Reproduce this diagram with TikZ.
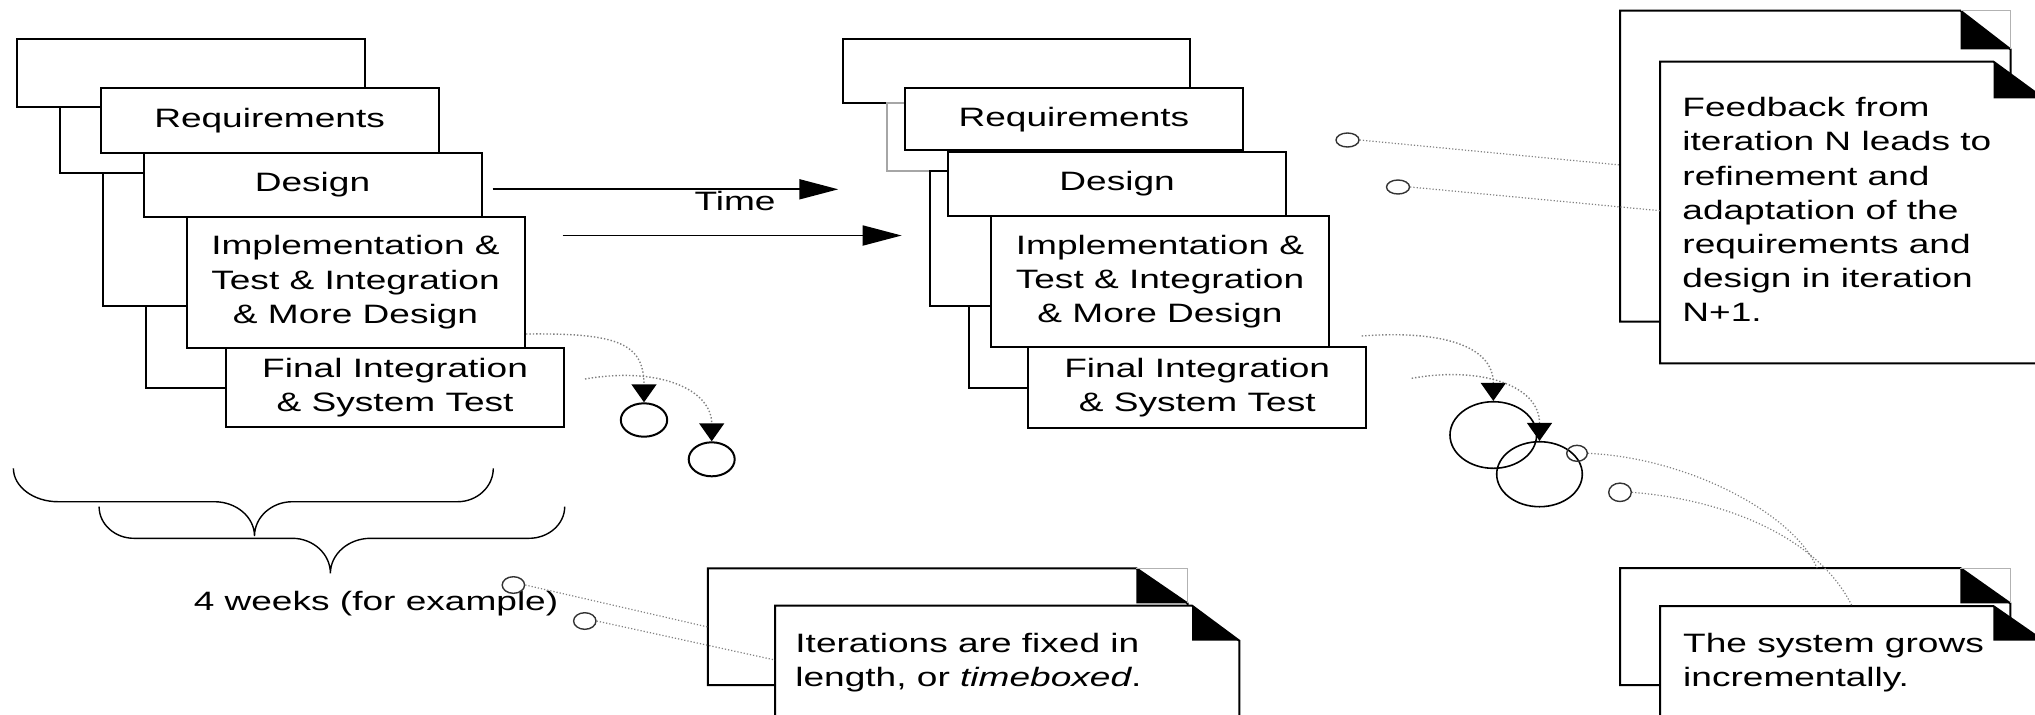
\documentclass[tikz,border=0pt]{standalone}
\usepackage{fontspec}
\setmainfont{Liberation Sans}
\usepackage{graphicx}
\usetikzlibrary{arrows.meta,shapes.geometric}
\newcommand{\tf}{\fontsize{13.3}{17.08}\selectfont}
\newcommand{\sx}[1]{\scalebox{1.393}[1]{#1}}
\tikzset{
 frame/.style={draw=black, line width=1pt, fill=white},
 grayframe/.style={draw=gray!70, line width=1pt, fill=white},
 box/.style={draw=black, line width=1pt, fill=white, inner sep=0pt, minimum width=169pt, font=\tf, align=center},
 lbl/.style={font=\tf, inner sep=0pt},
 timearrow/.style={line width=0.9pt, -{Triangle[length=19.5pt,width=10pt]}},
 arcarrow/.style={gray, densely dotted, line width=0.7pt, -{Triangle[length=9pt,width=12.5pt,color=black,fill=black]}},
 ring/.style={ellipse, draw=black, line width=1pt, inner sep=0pt},
 anchorring/.style={ellipse, draw=black!80, line width=0.7pt, inner sep=0pt},
 noteline/.style={gray, densely dotted, line width=0.6pt},
 doc/.style={draw=black, line width=1pt, fill=white},
 fold/.style={fill=black},
 foldedge/.style={draw=gray!60, line width=0.4pt},
 brace/.style={line width=0.7pt, draw=black},
}
\begin{document}
\begin{tikzpicture}[x=0.5pt,y=-0.5pt]
\useasboundingbox (0,0) rectangle (2035,714);
\clip (0,0) rectangle (2035,714);

% ---------- left stack ----------
\draw[frame] (16.8,39) rectangle (364.7,106.7);
\draw[frame] (60.1,106.7) rectangle (400,172.7);
\draw[frame] (102.6,172.7) rectangle (450,306);
\draw[frame] (146.2,306) rectangle (500,388.3);
\node[box, minimum height=32.5pt] (R1) at (269.6,120.8) {\sx{Requirements}};
\node[box, minimum height=31.7pt] (D1) at (312.5,185) {\sx{Design}};
\node[box, minimum height=65.5pt] (I1) at (355.5,282.2) {\sx{\begin{tabular}{@{}c@{}}Implementation \&\\Test \& Integration\\\& More Design\end{tabular}}};
\node[box, minimum height=39.8pt] (F1) at (395.1,387.5) {\sx{\begin{tabular}{@{}c@{}}Final Integration\\\& System Test\end{tabular}}};

% ---------- right stack ----------
\draw[frame] (843,39) rectangle (1190.4,103.3);
\draw[grayframe] (887,103.3) rectangle (1150,170.7);
\draw[frame] (929.8,170.7) rectangle (1200,306);
\draw[frame] (969.2,306) rectangle (1250,388.3);
\node[box, minimum height=30.85pt] (R2) at (1073.9,119.2) {\sx{Requirements}};
\node[box, minimum height=32pt] (D2) at (1117.1,183.7) {\sx{Design}};
\node[box, minimum height=65.35pt] (I2) at (1160,281.4) {\sx{\begin{tabular}{@{}c@{}}Implementation \&\\Test \& Integration\\\& More Design\end{tabular}}};
\node[box, minimum height=40.35pt] (F2) at (1197.2,387.4) {\sx{\begin{tabular}{@{}c@{}}Final Integration\\\& System Test\end{tabular}}};

% ---------- time arrows ----------
\coordinate (ta1) at (492.5,189.3); \coordinate (tb1) at (838.3,189.3);
\coordinate (ta2) at (562.6,235.5); \coordinate (tb2) at (901.7,235.5);
\draw[timearrow] (ta1) -- (tb1);
\draw[timearrow] (ta2) -- (tb2);
\node[lbl, anchor=base] (time) at (735,210.7) {\sx{Time}};

% ---------- increments (left) ----------
\node[ring, minimum width=23.2pt, minimum height=16.7pt] (c1) at (644,420) {};
\node[ring, minimum width=23pt, minimum height=17pt] (c2) at (711.7,459.3) {};
\coordinate (a1) at (526,334); \coordinate (a2) at (585,379);
\draw[arcarrow] (a1) .. controls (615,333) and (644,342) .. (c1.north);
\draw[arcarrow] (a2) .. controls (660,366) and (711.7,390) .. (c2.north);

% ---------- increments (right) ----------
\node[ring, line width=0.8pt, minimum width=43.3pt, minimum height=33.3pt] (C1) at (1493.3,435) {};
\node[ring, line width=0.8pt, minimum width=42.8pt, minimum height=32.5pt] (C2) at (1539.5,474.2) {};
\coordinate (a3) at (1361.7,336); \coordinate (a4) at (1411.7,378.3);
\draw[arcarrow] (a3) .. controls (1440,330) and (1493.3,345) .. (C1.north);
\draw[arcarrow] (a4) .. controls (1480,366) and (1539.5,385) .. (C2.north);

% ---------- braces ----------
\draw[brace] (13.4,468.3) .. controls (13.4,486.7) and (33.5,501.7) .. (58,501.7)
  -- (214.3,501.7) .. controls (236.4,501.7) and (254.5,517.1) .. (254.5,536)
  .. controls (254.5,517.1) and (271.6,501.7) .. (292.4,501.7)
  -- (457.6,501.7) .. controls (477.2,501.7) and (493.3,486.7) .. (493.3,468.3);
\draw[brace] (99.1,506.7) .. controls (99.1,524.1) and (114.8,538.3) .. (133.9,538.3)
  -- (292.4,538.3) .. controls (313.3,538.3) and (330.4,554.1) .. (330.4,573.3)
  .. controls (330.4,554.1) and (348.5,538.3) .. (370.5,538.3)
  -- (529,538.3) .. controls (548.6,538.3) and (564.7,524.1) .. (564.7,506.7);
\node[lbl, anchor=base] (weeks) at (376,610) {\sx{4 weeks (for example)}};

% ---------- note: top right ----------
\draw[doc] (1620.2,10.7) -- (1960.5,10.7) -- (2010.5,49.3) -- (2010.5,321.7) -- (1620.2,321.7) -- cycle;
\fill[fold] (1960.5,10.7) -- (1960.5,49.3) -- (2010.5,49.3) -- cycle;
\draw[foldedge] (1960.5,10.7) -- (2010.5,10.7) -- (2010.5,49.3);
\draw[doc] (1660,61.7) -- (1993.5,61.7) -- (2043.5,98.3) -- (2043.5,363.3) -- (1660,363.3) -- cycle;
\fill[fold] (1993.5,61.7) -- (1993.5,98.3) -- (2043.5,98.3) -- cycle;
\node[lbl, anchor=base west] (fbtext) at (1682,116.7) {\sx{\begin{tabular}[t]{@{}l@{}}Feedback from\\iteration N leads to\\refinement and\\adaptation of the\\requirements and\\design in iteration\\N+1.\end{tabular}}};

% ---------- note: bottom left ----------
\draw[doc] (707.9,568.3) -- (1136.4,568.3) -- (1187.5,603.3) -- (1187.5,685) -- (707.9,685) -- cycle;
\fill[fold] (1136.4,568.3) -- (1136.4,603.3) -- (1187.5,603.3) -- cycle;
\draw[foldedge] (1136.4,568.3) -- (1187.5,568.3) -- (1187.5,603.3);
\draw[doc] (775,605.7) -- (1192.1,605.7) -- (1239.3,640.7) -- (1239.3,760) -- (775,760) -- cycle;
\fill[fold] (1192.1,605.7) -- (1192.1,640.7) -- (1239.3,640.7) -- cycle;
\node[lbl, anchor=base west] (tbtext) at (795,652.7) {\sx{\begin{tabular}[t]{@{}l@{}}Iterations are fixed in\\length, or \textit{timeboxed}.\end{tabular}}};

% ---------- note: bottom right ----------
\draw[doc] (1620.2,568) -- (1960.3,568) -- (2010.3,603.3) -- (2010.3,685) -- (1620.2,685) -- cycle;
\fill[fold] (1960.3,568) -- (1960.3,603.3) -- (2010.3,603.3) -- cycle;
\draw[foldedge] (1960.3,568) -- (2010.3,568) -- (2010.3,603.3);
\draw[doc] (1660,606) -- (1993.3,606) -- (2043.3,640.7) -- (2043.3,760) -- (1660,760) -- cycle;
\fill[fold] (1993.3,606) -- (1993.3,640.7) -- (2043.3,640.7) -- cycle;
\node[lbl, anchor=base west] (grtext) at (1682.8,652.7) {\sx{\begin{tabular}[t]{@{}l@{}}The system grows\\incrementally.\end{tabular}}};

% ---------- note anchors ----------
\node[anchorring, minimum width=11.5pt, minimum height=7pt] (ka) at (1347.5,140) {};
\node[anchorring, minimum width=11.5pt, minimum height=7pt] (kb) at (1398,187) {};
\coordinate (ea) at (1620.2,165); \coordinate (eb) at (1660,210.7);
\draw[noteline] (ka.east) -- (ea);
\draw[noteline] (kb.east) -- (eb);

\node[anchorring, minimum width=10.3pt, minimum height=8pt] (kc) at (1577,453.3) {};
\node[anchorring, minimum width=11.3pt, minimum height=9.2pt] (kd) at (1620,492.3) {};
\coordinate (ec) at (1817,568); \coordinate (ed) at (1852,606);
\draw[noteline] (kc.east) .. controls (1690,458) and (1795,515) .. (ec);
\draw[noteline] (kd.east) .. controls (1730,500) and (1820,540) .. (ed);

\node[anchorring, minimum width=11.2pt, minimum height=8.3pt] (ke) at (513.4,585) {};
\node[anchorring, minimum width=11.2pt, minimum height=8.3pt] (kf) at (584.8,621) {};
\coordinate (ee) at (707.9,627); \coordinate (ef) at (775,660);
\draw[noteline] (ke.east) -- (ee);
\draw[noteline] (kf.east) -- (ef);
\end{tikzpicture}
\end{document}
